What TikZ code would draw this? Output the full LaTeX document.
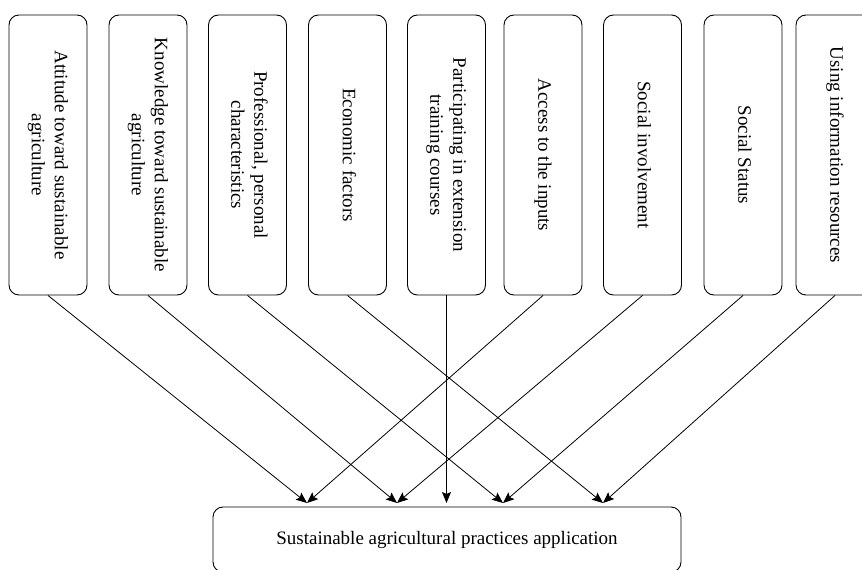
\documentclass[tikz,border=0pt]{standalone}
\usepackage{fontspec}
\setmainfont{Liberation Serif}
\usetikzlibrary{arrows.meta}
\tikzset{
  factor/.style={draw, line width=0.9pt, rounded corners=10pt, minimum width=78pt, minimum height=280pt, inner sep=0pt, font=\fontsize{19}{23}\selectfont},
  result/.style={draw, line width=0.9pt, rounded corners=10pt, minimum width=468pt, minimum height=65pt, inner sep=0pt, font=\fontsize{19}{23}\selectfont},
  link/.style={line width=0.8pt, -{Stealth[length=11pt, width=9pt, inset=2pt]}}
}
\newcommand{\vtext}[1]{\rotatebox{-90}{\begin{tabular}{@{}c@{}}#1\end{tabular}}}
\begin{document}
\begin{tikzpicture}[x=1pt, y=-1pt]
\useasboundingbox (0,0) rectangle (862,570);
\node[factor] (b1) at (48,155) {\vtext{Attitude toward sustainable\\agriculture}};
\node[factor] (b2) at (148,155) {\vtext{Knowledge toward sustainable\\agriculture}};
\node[factor] (b3) at (247.5,155) {\vtext{Professional, personal\\characteristics}};
\node[factor] (b4) at (347.5,155) {\vtext{Economic factors}};
\node[factor] (b5) at (446.5,155) {\vtext{Participating in extension\\training courses}};
\node[factor] (b6) at (543,155) {\vtext{Access to the inputs}};
\node[factor] (b7) at (642.5,155) {\vtext{Social involvement}};
\node[factor] (b8) at (743,155) {\vtext{Social Status}};
\node[factor] (b9) at (835,155) {\vtext{Using information resources}};
\node[result] (res) at (447,539.5) {Sustainable agricultural practices application};
\coordinate (e1) at (307,503);
\coordinate (e2) at (397,503);
\coordinate (e3) at (503,503);
\coordinate (e4) at (603,503);
\coordinate (e5) at (446.5,503);
\draw[link] (b1.south) -- (e1);
\draw[link] (b2.south) -- (e2);
\draw[link] (b3.south) -- (e3);
\draw[link] (b4.south) -- (e4);
\draw[link] (b5.south) -- (e5);
\draw[link] (b6.south) -- (e1);
\draw[link] (b7.south) -- (e2);
\draw[link] (b8.south) -- (e3);
\draw[link] (b9.south) -- (e4);
\end{tikzpicture}
\end{document}
